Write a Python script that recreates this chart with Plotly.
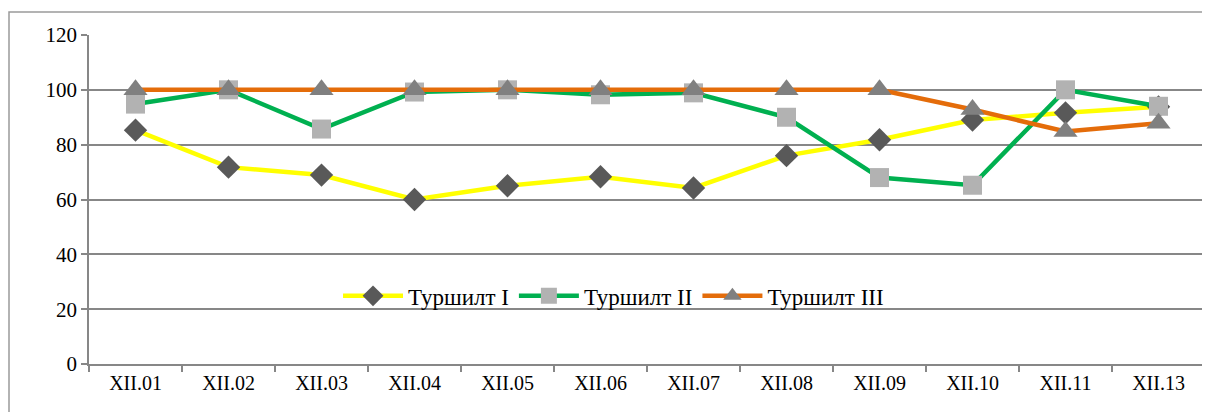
import plotly.graph_objects as go

categories = ["XII.01", "XII.02", "XII.03", "XII.04", "XII.05", "XII.06",
              "XII.07", "XII.08", "XII.09", "XII.10", "XII.11", "XII.13"]
series_1 = [85.3, 71.8, 68.9, 60.0, 65.0, 68.3, 64.2, 76.0, 81.8, 89.0, 91.6, 93.8]
series_2 = [94.8, 100, 85.7, 99.2, 100, 98.2, 98.9, 90.0, 68.0, 65.2, 100, 94.0]
series_3 = [100, 100, 100, 100, 100, 100, 100, 100, 100, 92.8, 84.8, 87.8]
names = ["Туршилт I", "Туршилт II", "Туршилт III"]

FONT = "Liberation Serif"

fig = go.Figure()
fig.add_trace(go.Scatter(x=categories, y=series_1, name=names[0], mode="lines+markers",
                         line=dict(color="#FFFF00", width=4.5),
                         marker=dict(symbol="diamond", size=18, color="#595959")))
fig.add_trace(go.Scatter(x=categories, y=series_2, name=names[1], mode="lines+markers",
                         line=dict(color="#00B050", width=4.5),
                         marker=dict(symbol="square", size=19, color="#B2B2B2")))
fig.add_trace(go.Scatter(x=categories, y=series_3, name=names[2], mode="lines+markers",
                         line=dict(color="#E46C0A", width=4.5),
                         marker=dict(symbol="triangle-up", size=21, color="#808080")))

fig.update_layout(
    width=1210, height=412,
    margin=dict(l=81, r=13, t=27, b=56),
    paper_bgcolor="white", plot_bgcolor="white",
    font=dict(family=FONT, color="black", size=20),
    showlegend=True,
    legend=dict(orientation="h", x=0.47, y=0.207, xanchor="center", yanchor="middle",
                font=dict(family=FONT, size=23), bgcolor="rgba(0,0,0,0)", itemwidth=60,
                tracegroupgap=0),
    xaxis=dict(type="category", tickson="boundaries", ticks="outside", ticklen=6,
               tickcolor="#878787", tickwidth=1.5, showline=True, linecolor="#878787",
               linewidth=1.5, showgrid=False, tickfont=dict(family=FONT, size=20),
               range=[-0.5, 11.5]),
    yaxis=dict(range=[0, 120], dtick=20, ticks="outside", ticklen=6, tickcolor="#878787",
               tickwidth=1.5, showline=True, linecolor="#878787", linewidth=1.5,
               showgrid=True, gridcolor="#878787", gridwidth=1.5, zeroline=False,
               tickfont=dict(family=FONT, size=21)),
    shapes=[dict(type="rect", xref="paper", yref="paper",
                 x0=-80 / 1116, x1=1.2, y0=-1.0, y1=1 + 23 / 329,
                 line=dict(color="#9A9A9A", width=1.5), layer="below")],
)

fig.write_html("out.html")
